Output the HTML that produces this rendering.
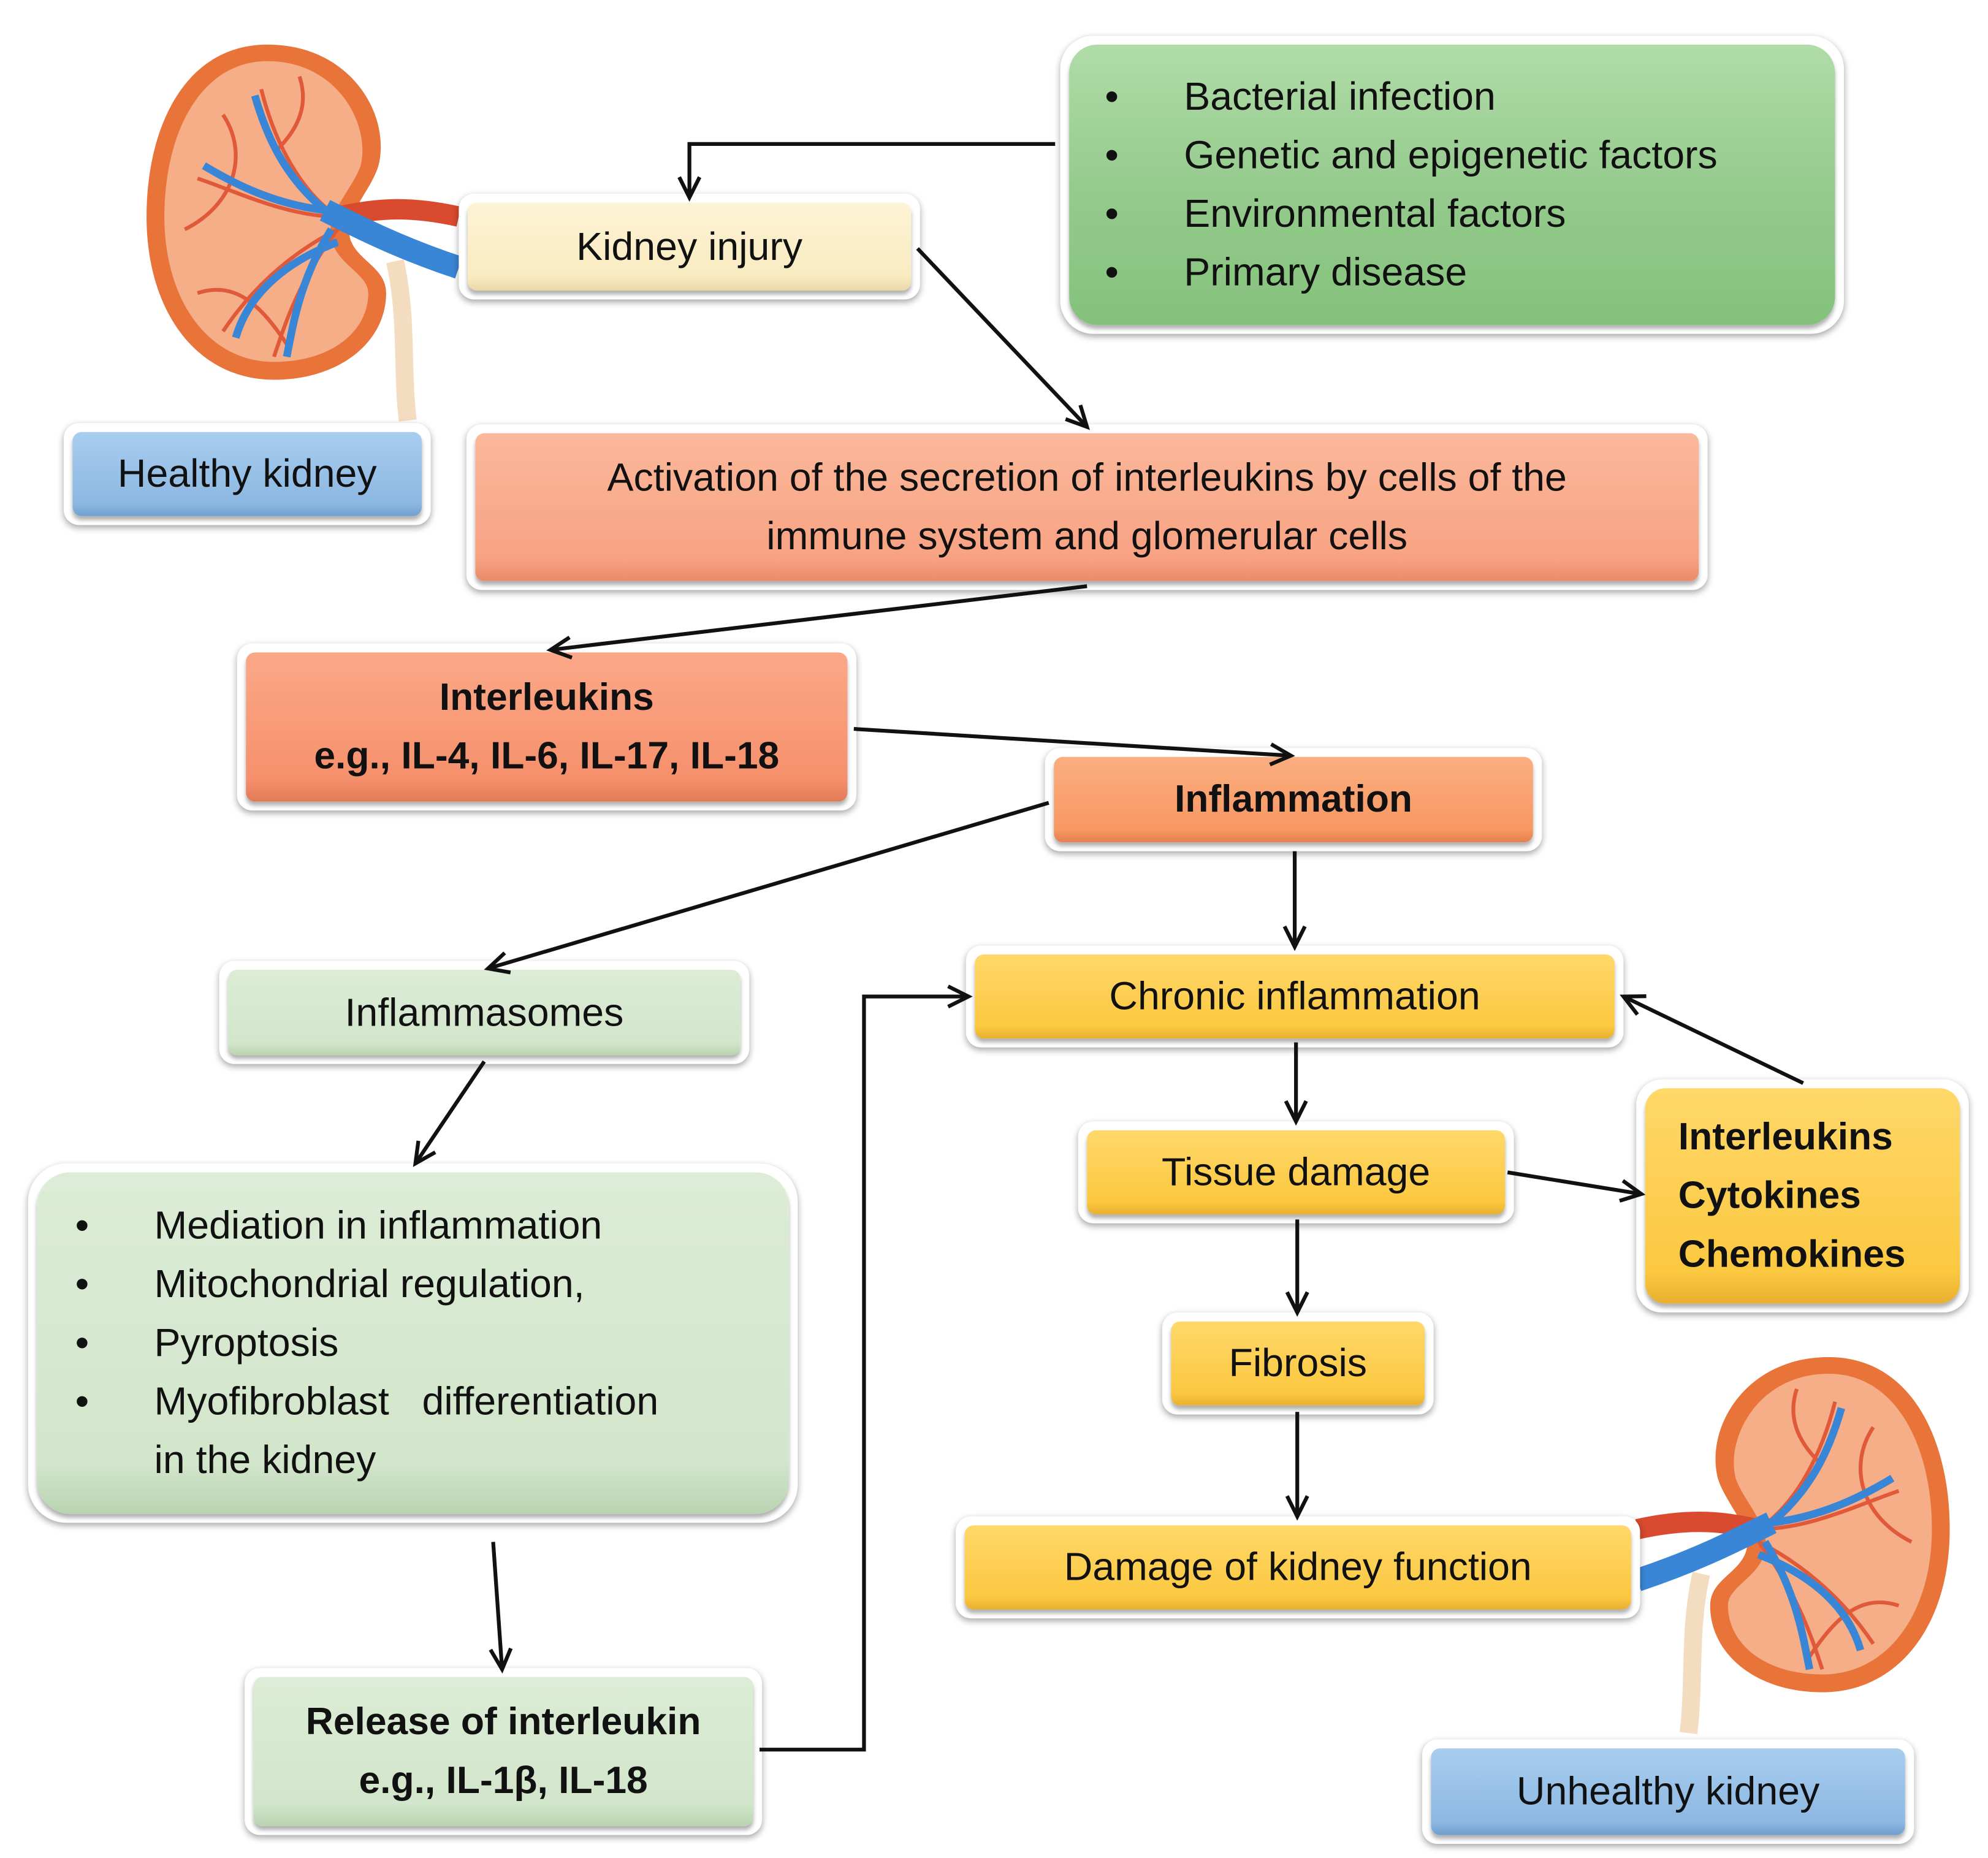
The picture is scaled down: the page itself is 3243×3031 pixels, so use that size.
<!DOCTYPE html>
<html><head><meta charset="utf-8"><style>
html,body{margin:0;padding:0;background:#fff;}
body{width:3243px;height:3030px;overflow:hidden;position:relative;}
#c{position:absolute;left:0;top:0;width:1560px;height:1458px;transform:scale(2.0788);transform-origin:0 0;font-family:"Liberation Sans",sans-serif;color:#111;}
.o{position:absolute;background:#fff;border-radius:12px;box-shadow:0 2px 5px rgba(0,0,0,.35);box-sizing:border-box;padding:7px;}
.i{width:100%;height:100%;border-radius:7px;box-sizing:border-box;display:flex;align-items:center;justify-content:center;text-align:center;font-size:31px;line-height:46px;box-shadow:0 3px 3px rgba(0,0,0,.3);}
.b{font-weight:bold;font-size:30px;}
.yel{background:linear-gradient(#ffd86a,#fbc840 85%,#e8b030);}
.blue{background:linear-gradient(#a8cdef,#8db8e2 85%,#6f9fd0);}
.lg{background:linear-gradient(#dcecd6,#d2e6cb 85%,#b9d4b0);}
.sal{background:linear-gradient(#fbb89b,#f8a283 85%,#e88a6a);}
.list{justify-content:flex-start;text-align:left;}
.list ul{margin:0;padding:0;list-style:none;}
.list li{position:relative;}
svg{position:absolute;left:0;top:0;}
#top{z-index:5;pointer-events:none;}
</style></head><body><div id="c">
<svg width="1560" height="1458" viewBox="0 0 1560 1458">
<defs>
<g id="kid">
<path d="M195,175 C205,220 200,260 205,300" stroke="#f3dcc0" stroke-width="14" fill="none"/>
<path d="M95,5 C30,5 0,70 0,140 C0,215 40,268 100,268 C152,268 188,238 188,200 C188,180 166,175 160,158 C154,140 176,120 182,100 C192,60 160,5 95,5 Z" fill="#e8743a"/>
<path d="M95,18 C42,18 14,75 14,140 C14,205 48,254 100,254 C145,254 174,230 174,200 C174,185 150,178 145,158 C140,138 162,118 168,100 C176,68 150,18 95,18 Z" fill="#f6ae88"/>
<path d="M150,140 C120,120 100,80 90,40 M150,140 C110,140 70,120 40,110 M150,150 C110,170 80,200 60,230 M150,150 C120,190 110,220 100,250 M60,60 C80,90 70,130 30,150 M120,30 C130,60 110,80 100,90 M40,200 C70,190 90,210 110,240" stroke="#e05a3a" stroke-width="3" fill="none"/>
<path d="M245,140 C200,130 175,135 150,140" stroke="#d94a2e" stroke-width="16" fill="none"/>
<path d="M245,180 C200,165 170,150 140,135 C110,110 95,80 85,45 M140,135 C100,130 70,115 45,100 M150,160 C110,175 80,200 70,235 M145,150 C120,190 115,225 110,250" stroke="#3a86d6" stroke-width="6" fill="none"/>
<path d="M245,180 C200,165 170,150 140,135" stroke="#3a86d6" stroke-width="18" fill="none"/>
</g>
</defs>
<use href="#kid" transform="translate(115,30)"/>
<use href="#kid" transform="translate(1530,1060) scale(-1,1)"/>
</svg>
<div class="o" style="left:50px;top:332px;width:288px;height:80px"><div class="i blue">Healthy kidney</div></div>
<div class="o" style="left:360px;top:152px;width:362px;height:83px"><div class="i" style="background:linear-gradient(#fdf3d6,#f9ebc0 85%,#e9d7a6)">Kidney injury</div></div>
<div class="o" style="left:832px;top:28px;width:615px;height:234px;border-radius:26px"><div class="i list" style="border-radius:22px;background:linear-gradient(#b0dca8,#96cb8e 50%,#84c27c)"><ul style="margin-left:28px">
<li><span style="display:inline-block;width:62px">•</span>Bacterial infection</li>
<li><span style="display:inline-block;width:62px">•</span>Genetic and epigenetic factors</li>
<li><span style="display:inline-block;width:62px">•</span>Environmental factors</li>
<li><span style="display:inline-block;width:62px">•</span>Primary disease</li></ul></div></div>
<div class="o" style="left:366px;top:333px;width:974px;height:130px"><div class="i sal">Activation of the secretion of interleukins by cells of the<br>immune system and glomerular cells</div></div>
<div class="o" style="left:186px;top:505px;width:486px;height:131px"><div class="i sal b" style="background:linear-gradient(#faa888,#f6906c 85%,#e27a58)">Interleukins<br>e.g., IL-4, IL-6, IL-17, IL-18</div></div>
<div class="o" style="left:820px;top:587px;width:390px;height:81px"><div class="i b" style="background:linear-gradient(#fbae80,#f79862 85%,#e58050)">Inflammation</div></div>
<div class="o" style="left:172px;top:754px;width:416px;height:81px"><div class="i lg">Inflammasomes</div></div>
<div class="o" style="left:22px;top:913px;width:604px;height:282px;border-radius:30px"><div class="i lg list" style="border-radius:26px"><ul style="margin-left:30px">
<li><span style="display:inline-block;width:62px">•</span>Mediation in inflammation</li>
<li><span style="display:inline-block;width:62px">•</span>Mitochondrial regulation,</li>
<li><span style="display:inline-block;width:62px">•</span>Pyroptosis</li>
<li><span style="display:inline-block;width:62px">•</span>Myofibroblast &nbsp;&nbsp;differentiation</li>
<li><span style="display:inline-block;width:62px"></span>in the kidney</li></ul></div></div>
<div class="o" style="left:192px;top:1309px;width:406px;height:131px"><div class="i lg b">Release of interleukin<br>e.g., IL-1β, IL-18</div></div>
<div class="o" style="left:758px;top:742px;width:516px;height:80px"><div class="i yel">Chronic inflammation</div></div>
<div class="o" style="left:846px;top:880px;width:342px;height:80px"><div class="i yel">Tissue damage</div></div>
<div class="o" style="left:1284px;top:847px;width:261px;height:183px;border-radius:20px"><div class="i yel b list" style="border-radius:16px;padding-left:26px">Interleukins<br>Cytokines<br>Chemokines</div></div>
<div class="o" style="left:912px;top:1030px;width:213px;height:80px"><div class="i yel">Fibrosis</div></div>
<div class="o" style="left:750px;top:1190px;width:537px;height:80px"><div class="i yel">Damage of kidney function</div></div>
<div class="o" style="left:1116px;top:1365px;width:386px;height:82px"><div class="i blue">Unhealthy kidney</div></div>
<svg id="top" width="1560" height="1458" viewBox="0 0 1560 1458">
<defs>
<marker id="a" markerWidth="24" markerHeight="24" refX="20" refY="12" orient="auto" markerUnits="userSpaceOnUse"><path d="M4,4 L20,12 L4,20" fill="none" stroke="#111" stroke-width="3"/></marker>
</defs>
<g stroke="#111" stroke-width="3" fill="none" marker-end="url(#a)">
<path d="M828,113 L541,113 L541,155"/>
<path d="M720,195 L853,335"/>
<path d="M853,460 L432,510"/>
<path d="M670,572 L1013,593"/>
<path d="M823,630 L383,760"/>
<path d="M1016,668 L1016,743"/>
<path d="M380,833 L326,913"/>
<path d="M387,1210 L394,1310"/>
<path d="M596,1373 L678,1373 L678,782 L760,782"/>
<path d="M1017,818 L1017,880"/>
<path d="M1183,920 L1288,937"/>
<path d="M1415,850 L1274,782"/>
<path d="M1018,957 L1018,1030"/>
<path d="M1018,1108 L1018,1190"/>
</g>
</svg>
</div></body></html>
